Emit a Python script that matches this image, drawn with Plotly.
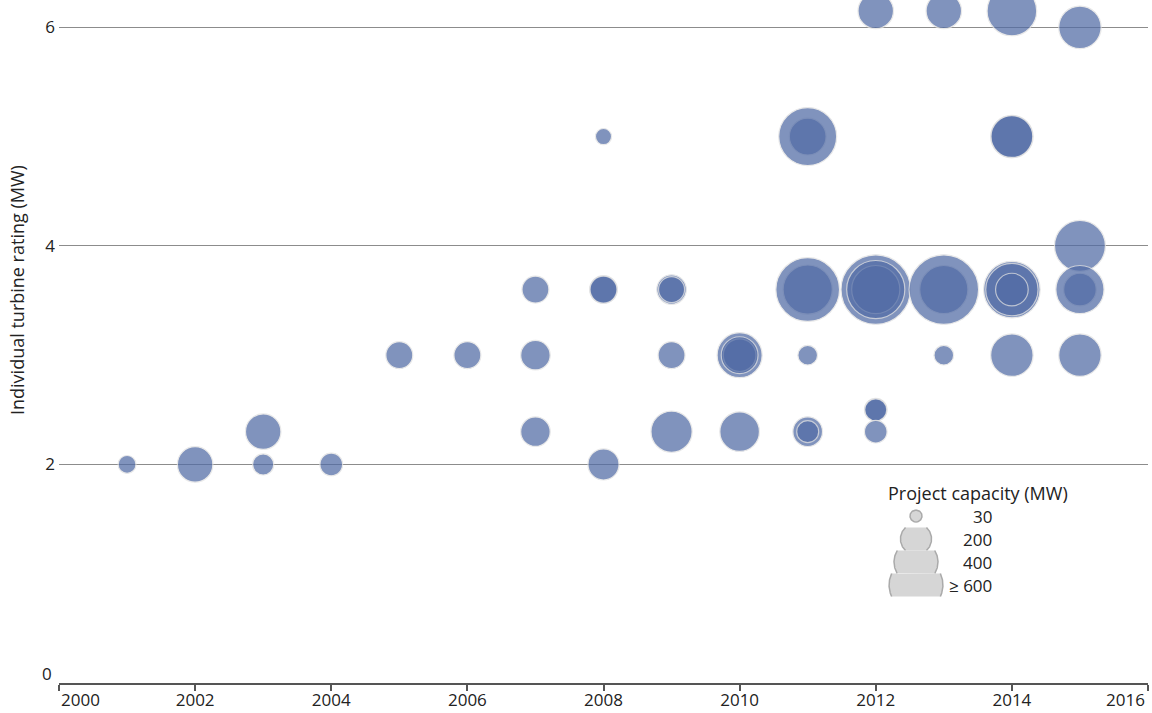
import numpy as np
import plotly.graph_objects as go

# ---- data: one entry per project (within a cell, list order = drawing order) ----
years = [2001, 2002, 2003, 2003, 2004, 2005, 2006, 2007, 2007, 2007,
         2008, 2008, 2008, 2008, 2009, 2009, 2009, 2009,
         2010, 2010, 2010, 2010,
         2011, 2011, 2011, 2011, 2011, 2011, 2011,
         2012, 2012, 2012, 2012, 2012, 2012, 2012,
         2013, 2013, 2013, 2013,
         2014, 2014, 2014, 2014, 2014, 2014, 2014,
         2015, 2015, 2015, 2015, 2015]
ratings = [2.0, 2.0, 2.3, 2.0, 2.0, 3.0, 3.0, 3.6, 3.0, 2.3,
           5.0, 3.6, 3.6, 2.0, 3.6, 3.6, 3.0, 2.3,
           3.0, 3.0, 3.0, 2.3,
           5.0, 5.0, 3.6, 3.6, 3.0, 2.3, 2.3,
           6.15, 3.6, 3.6, 3.6, 2.5, 2.5, 2.3,
           6.15, 3.6, 3.6, 3.0,
           6.15, 5.0, 5.0, 3.6, 3.6, 3.6, 3.0,
           6.0, 4.0, 3.6, 3.6, 3.0]
capacities = [33, 130, 130, 46, 53, 75, 75, 75, 90, 90,
              27, 80, 75, 100, 90, 70, 75, 175,
              210, 110, 140, 162,
              140, 347, 250, 420, 40, 91, 50,
              130, 500, 240, 350, 53, 50, 53,
              130, 240, 500, 40,
              255, 186, 180, 330, 283, 110, 186,
              186, 268, 110, 240, 186]

legend_caps = [30, 200, 400, 600]
legend_labels = ["30", "200", "400", "≥ 600"]
x_ticks = [2000, 2002, 2004, 2006, 2008, 2010, 2012, 2014, 2016]
y_ticks = [0, 2, 4, 6]

FONT = "Open Sans"
FS = 17
FT = 18
TXT = "#222"
K = 2.2  # px diameter per sqrt(MW)
BUB = "rgb(82,108,166)"

fig = go.Figure()
fig.add_trace(go.Scatter(
    x=years, y=ratings, mode="markers",
    marker=dict(size=capacities, sizemode="area", sizeref=1 / K ** 2,
                color=BUB, opacity=0.73,
                line=dict(color="rgb(225,225,225)", width=1.2)),
    hoverinfo="x+y+text", text=[f"{c} MW" for c in capacities],
    showlegend=False,
))

# ---- size legend (pixel space on overlay axes) ----
L, R, T, B = 59, 4, 0, 30
W, H = 1152, 713
cx = 916
row0 = 516
rowh = 23
for i, (cap, lab) in enumerate(zip(legend_caps, legend_labels)):
    cy = row0 + i * rowh
    r = K * np.sqrt(cap) / 2
    lo, hi = cy - rowh / 2, cy + rowh / 2
    y0, y1 = max(lo, cy - r), min(hi, cy + r)
    yy = np.linspace(y0, y1, 60)
    dx = np.sqrt(np.clip(r ** 2 - (yy - cy) ** 2, 0, None))
    px = np.concatenate([cx + dx, (cx - dx)[::-1]])
    py = np.concatenate([yy, yy[::-1]])
    fig.add_trace(go.Scatter(x=px, y=py, xaxis="x2", yaxis="y2", mode="lines",
                             fill="toself", fillcolor="rgb(214,214,214)",
                             line=dict(width=0), hoverinfo="skip", showlegend=False))
    for sgn in (1, -1):
        fig.add_trace(go.Scatter(x=cx + sgn * dx, y=yy, xaxis="x2", yaxis="y2",
                                 mode="lines", line=dict(color="rgb(170,170,170)", width=1.5),
                                 hoverinfo="skip", showlegend=False))
    fig.add_annotation(x=994, y=cy, xref="x2", yref="y2", text=lab, showarrow=False,
                       xanchor="right", yanchor="middle",
                       font=dict(family=FONT, size=FS, color=TXT))

fig.add_annotation(x=978, y=493, xref="x2", yref="y2", text="Project capacity (MW)",
                   showarrow=False, xanchor="center", yanchor="middle",
                   font=dict(family=FONT, size=FT, color=TXT))

# axis label
fig.add_annotation(x=(17 - L) / (W - L - R), y=(H - B - 290) / (H - B - T),
                   xref="paper", yref="paper", text="Individual turbine rating (MW)",
                   textangle=-90, showarrow=False, xanchor="center", yanchor="middle",
                   font=dict(family=FONT, size=FT, color=TXT))

# end tick labels & zero label
fig.add_annotation(x=x_ticks[0], y=0, xref="x", yref="paper", text=str(x_ticks[0]),
                   showarrow=False, xanchor="left", yanchor="top", xshift=0, yshift=-3,
                   font=dict(family=FONT, size=FS, color=TXT))
fig.add_annotation(x=x_ticks[-1], y=0, xref="x", yref="paper", text=str(x_ticks[-1]),
                   showarrow=False, xanchor="right", yanchor="top", xshift=-1, yshift=-3,
                   font=dict(family=FONT, size=FS, color=TXT))
fig.add_annotation(x=0, y=y_ticks[0], xref="paper", yref="y", text=str(y_ticks[0]),
                   showarrow=False, xanchor="right", yanchor="middle", xshift=-5, yshift=10,
                   font=dict(family=FONT, size=FS, color=TXT))

fig.update_layout(
    width=W, height=H,
    margin=dict(l=L, r=R, t=T, b=B, autoexpand=False),
    paper_bgcolor="white", plot_bgcolor="white",
    font=dict(family=FONT, size=FS, color=TXT),
    xaxis=dict(range=[2000, 2016], tickvals=x_ticks,
               ticktext=[""] + [str(v) for v in x_ticks[1:-1]] + [""],
               showgrid=False, zeroline=False, showline=True,
               linecolor="#555", linewidth=1.5, ticks="outside", ticklen=6,
               tickcolor="#555", tickwidth=1.5, ticklabelstandoff=-5),
    yaxis=dict(range=[0, 6.25], tickvals=y_ticks,
               ticktext=[""] + [str(v) for v in y_ticks[1:]],
               showgrid=True, gridcolor="#8c8c8c", gridwidth=1,
               zeroline=False, showline=False, ticks="", ticklabelstandoff=3),
    xaxis2=dict(overlaying="x", range=[L, W - R], visible=False),
    yaxis2=dict(overlaying="y", range=[H - B, T], visible=False),
    showlegend=False,
)

fig.write_html("out.html", config={"displayModeBar": False},
               post_script="document.body.style.margin='0';document.body.style.overflow='hidden';")
